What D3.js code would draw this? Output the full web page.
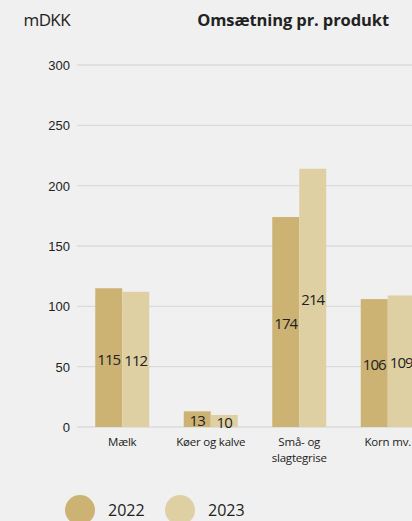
<!DOCTYPE html>
<html><head><meta charset="utf-8">
<script src="https://cdn.jsdelivr.net/npm/d3@7"></script>
<style>
html,body{margin:0;padding:0;background:#eff0ef;}
svg{display:block;font-family:"Open Sans",sans-serif;}
</style></head>
<body><svg id="c" width="412" height="521"></svg>
<script>
const categories = [["Mælk"], ["Køer og kalve"], ["Små- og", "slagtegrise"], ["Korn mv."]];
const years = ["2022", "2023"];
const values2022 = [115, 13, 174, 106];
const values2023 = [112, 10, 214, 109];
const yTicks = [0, 50, 100, 150, 200, 250, 300];
const colors = ["#cdb373", "#dfd0a3"];

const svg = d3.select("#c");
const W = 412, H = 521;
const y = d3.scaleLinear().domain([0, 300]).range([427, 65]);
const catKeys = categories.map(c => c.join(" "));
const x = d3.scaleBand().domain(catKeys).range([78, 432]).padding(0);
const xi = d3.scaleBand().domain(years).range([0, x.bandwidth()]).paddingInner(0).paddingOuter(0.64);
const color = d3.scaleOrdinal().domain(years).range(colors);

// gridlines
const yAxis = d3.axisLeft(y).tickValues(yTicks).tickSize(0).tickPadding(0);
const gy = svg.append("g").attr("transform", "translate(70,0)").call(yAxis);
gy.select(".domain").remove();
gy.selectAll("text").attr("font-size", 13).attr("fill", "#222").attr("dy", "0.35em").attr("x", 0);
svg.append("g").selectAll("line").data(yTicks).join("line")
  .attr("x1", 77).attr("x2", W).attr("y1", d => y(d)).attr("y2", d => y(d))
  .attr("stroke", "#dadbda").attr("stroke-width", 1.3);

const data = catKeys.map((k, i) => ({k, vals: [values2022[i], values2023[i]]}));
const groups = svg.append("g").selectAll("g").data(data).join("g")
  .attr("transform", d => `translate(${x(d.k)},0)`);
groups.selectAll("rect").data(d => d.vals.map((v, j) => ({v, yr: years[j]}))).join("rect")
  .attr("x", d => xi(d.yr)).attr("width", xi.bandwidth())
  .attr("y", d => y(d.v)).attr("height", d => y(0) - y(d.v))
  .attr("fill", d => color(d.yr));
groups.selectAll("text.v").data(d => d.vals.map((v, j) => ({v, yr: years[j]}))).join("text")
  .attr("class", "v")
  .attr("x", d => xi(d.yr) + xi.bandwidth() / 2)
  .attr("y", d => (y(d.v) + y(0)) / 2 + 1.5)
  .attr("dy", "0.36em").attr("text-anchor", "middle")
  .attr("font-size", 15).attr("fill", "#222").attr("letter-spacing", "-0.9")
  .text(d => d.v);

// x labels
const xl = svg.append("g").selectAll("text").data(categories).join("text")
  .attr("text-anchor", "middle").attr("font-size", 11.5).attr("fill", "#222")
  .attr("letter-spacing", "-0.2")
  .attr("transform", (d, i) => `translate(${x(catKeys[i]) + x.bandwidth() / 2},446)`);
xl.selectAll("tspan").data(d => d).join("tspan")
  .attr("x", 0).attr("dy", (d, i) => i === 0 ? 0 : 16).text(d => d);

// titles
svg.append("text").attr("x", 70).attr("y", 26).attr("text-anchor", "end")
  .attr("font-size", 17).attr("fill", "#222").attr("letter-spacing", "-0.6").text("mDKK");
svg.append("text").attr("x", 389).attr("y", 26).attr("text-anchor", "end")
  .attr("font-size", 16.5).attr("font-weight", "bold").attr("fill", "#222").attr("letter-spacing", "-0.1")
  .text("Omsætning pr. produkt");

// legend
const lg = svg.append("g").selectAll("g").data(years).join("g")
  .attr("transform", (d, i) => `translate(${80 + i * 100},510)`);
lg.append("circle").attr("r", 15).attr("fill", d => color(d));
lg.append("text").attr("x", 28).attr("y", 6).attr("font-size", 16).attr("fill", "#222").text(d => d);
</script></body></html>
